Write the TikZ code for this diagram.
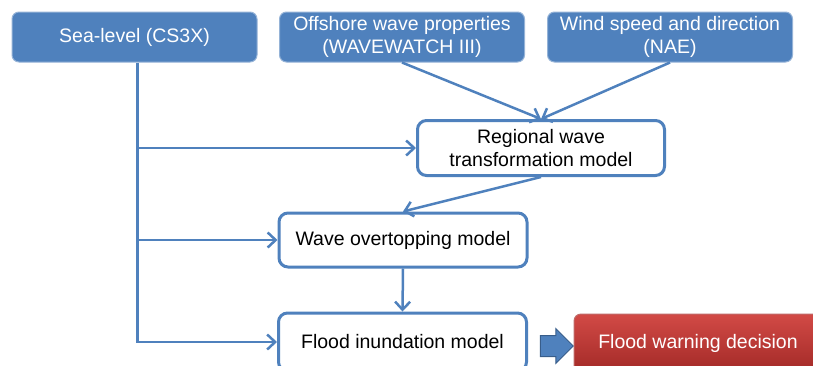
\documentclass[tikz,border=0pt]{standalone}
\usepackage{fontspec}
\setmainfont{Liberation Sans}
\usetikzlibrary{arrows.meta,shapes.arrows}
\definecolor{boxblue}{HTML}{4F81BD}
\definecolor{darkblue}{HTML}{385D8A}
\definecolor{redtop}{HTML}{D24A46}
\definecolor{redbot}{HTML}{A32A27}
\tikzset{
  inputbox/.style={fill=boxblue, draw=boxblue!60!white, line width=1pt, rounded corners=7pt,
    text=white, align=center, minimum width=245pt, minimum height=50pt,
    font=\fontsize{19.5}{23}\selectfont},
  modelbox/.style={fill=white, draw=boxblue, line width=3pt, rounded corners=9pt,
    text=black, align=center, minimum width=248pt, minimum height=54pt,
    font=\fontsize{19.5}{23}\selectfont},
  link/.style={boxblue, line width=2.5pt, -{Straight Barb[length=8pt,width=15pt]}}
}
\begin{document}
\begin{tikzpicture}[x=1pt, y=-1pt]
  % Bildbereich 813 x 365 (Pixelkoordinaten, y nach unten)
  \useasboundingbox (0,0) rectangle (813,365);
  \clip (0,0) rectangle (813,365);

  % Eingangsdaten (oben)
  \node[inputbox] (sealevel) at (134.5,37) {Sea-level (CS3X)};
  \node[inputbox] (offshore) at (402,37) {Offshore wave properties\\(WAVEWATCH III)};
  \node[inputbox] (wind) at (670,37) {Wind speed and direction\\(NAE)};

  % Modellkette
  \node[modelbox, minimum width=247pt, minimum height=55pt] (regional) at (541,148) {Regional wave\\transformation model};
  \node[modelbox] (overtop) at (403,240) {Wave overtopping model};
  \node[modelbox, minimum width=248pt, minimum height=58pt] (inundation) at (402.5,342) {Flood inundation model};

  % Entscheidung (rot, rechts unten)
  \node[shade, top color=redtop, bottom color=redbot, draw=redbot!70!white, line width=1pt,
    rounded corners=7pt, text=white, minimum width=248pt, minimum height=58pt,
    font=\fontsize{19.5}{23}\selectfont] (warning) at (698,343) {Flood warning decision};

  % Blockpfeil
  \node[single arrow, fill=boxblue, draw=darkblue, line width=1pt, minimum height=33pt,
    inner xsep=0pt, inner ysep=10pt, single arrow head extend=7pt] (blockarrow) at (551.5,346) {};

  % Verbindungen
  \draw[link] (offshore.south) -- (regional.north);
  \draw[link] (wind.south) -- (regional.north);
  \draw[link] (regional.south) -- (overtop.north);
  \draw[link] (overtop.south) -- (inundation.north);
  % Meeresspiegel-Stamm mit Abzweigen
  \draw[link] ([xshift=3pt]sealevel.south) |- (inundation.west);
  \draw[link] ([xshift=3pt]sealevel.south |- regional.west) -- (regional.west);
  \draw[link] ([xshift=3pt]sealevel.south |- overtop.west) -- (overtop.west);
\end{tikzpicture}
\end{document}
